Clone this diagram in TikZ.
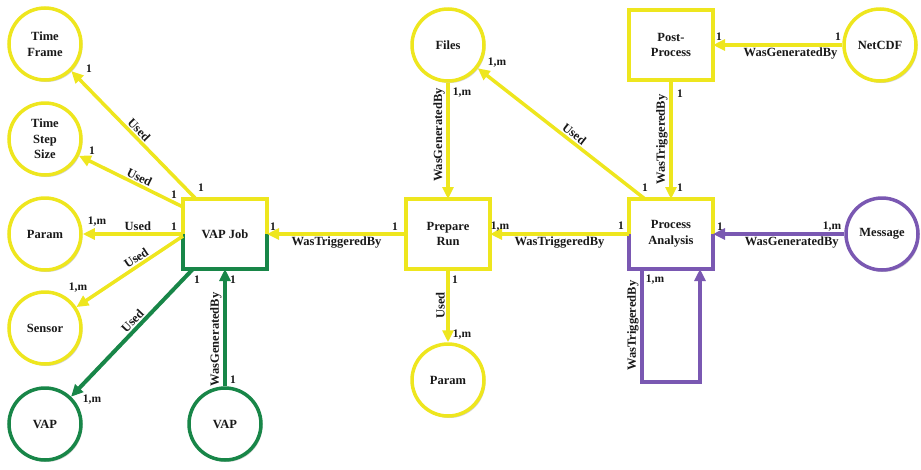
\documentclass[tikz,border=0pt]{standalone}
\usepackage{fontspec}
\setmainfont{Liberation Serif}
\usetikzlibrary{arrows.meta,shadows}
\definecolor{yel}{RGB}{238,230,30}
\definecolor{grn}{RGB}{24,134,72}
\definecolor{pur}{RGB}{122,88,178}
\begin{document}
\begin{tikzpicture}[x=1pt,y=-1pt,
  every node/.style={font=\bfseries\fontsize{12.5}{15.5}\selectfont, text=black!90},
  shd/.style={drop shadow={shadow xshift=1.5pt, shadow yshift=-2pt, opacity=0.35}},
  ent/.style={circle, draw=#1, line width=3.5pt, fill=white, minimum size=72pt, inner sep=0pt, align=center, shd},
  ent/.default=yel,
  act/.style={rectangle, draw=yel, line width=4pt, fill=white, minimum width=84pt, minimum height=70pt, outer sep=0pt, align=center, line join=miter, shd},
  rel/.style={line width=3.5pt, draw=#1, -{Triangle[length=12pt,width=11pt]}},
  rel/.default=yel,
  lab/.style={inner sep=1.5pt},
  card/.style={inner sep=0pt, font=\bfseries\fontsize{11.5}{14}\selectfont},
]
\useasboundingbox (0,0) rectangle (921,469);

% entities
\node[ent] (tf) at (45,44) {Time\\Frame};
\node[ent] (tss) at (45,139) {Time\\Step\\Size};
\node[ent] (param1) at (45,234) {Param};
\node[ent] (sensor) at (45,328) {Sensor};
\node[ent=grn] (vap1) at (45,424) {VAP};
\node[ent=grn] (vap2) at (225,424) {VAP};
\node[ent] (files) at (448,45) {Files};
\node[ent] (param2) at (448,380) {Param};
\node[ent] (netcdf) at (880,45) {NetCDF};
\node[ent=pur] (message) at (882,234) {Message};

% activities
\node[act] (vapjob) at (225,234) {VAP Job};
\node[act] (prepare) at (448,234) {Prepare\\Run};
\node[act] (post) at (671,45) {Post-\\Process};
\node[act] (pa) at (671,234) {Process\\Analysis};
\draw[grn, line width=4pt, line join=miter] (vapjob.west) -- (vapjob.south west) -- (vapjob.south east) -- (vapjob.east);
\draw[pur, line width=4pt, line join=miter] (pa.west) -- (pa.south west) -- (pa.south east) -- (pa.east);

% relations
\draw[rel] ([xshift=13pt]vapjob.north west) -- (tf)
  node[midway, sloped, above, lab] {Used};
\draw[rel] ([yshift=-8pt]vapjob.north west) -- (tss)
  node[pos=0.45, sloped, above, lab] {Used};
\draw[rel] (vapjob.west) -- (param1)
  node[pos=0.45, above, lab] {Used};
\draw[rel] ([yshift=-2pt]vapjob.west) -- (sensor)
  node[pos=0.4, sloped, above, lab] {Used};
\draw[rel=grn, line width=4pt] ([xshift=10pt]vapjob.south west) -- (vap1)
  node[pos=0.45, sloped, above, lab] {Used};
\draw[rel=grn, line width=4pt] (vap2) -- (vapjob.south)
  node[pos=0.4, rotate=90, above, lab] {WasGeneratedBy};
\draw[rel] (prepare.west) -- (vapjob.east)
  node[midway, below, lab] {WasTriggeredBy};
\draw[rel] (files) -- (prepare.north)
  node[pos=0.45, rotate=90, above, lab] {WasGeneratedBy};
\draw[rel] ([xshift=-26pt]pa.north) -- (files)
  node[pos=0.45, sloped, above, lab] {Used};
\draw[rel] (pa.west) -- (prepare.east)
  node[midway, below, lab] {WasTriggeredBy};
\draw[rel] (post) -- (pa.north)
  node[midway, rotate=90, above, lab] {WasTriggeredBy};
\draw[rel] (netcdf) -- (post.east)
  node[pos=0.4, below, lab] {WasGeneratedBy};
\draw[rel=pur] (message) -- (pa.east)
  node[pos=0.4, below, lab] {WasGeneratedBy};
\draw[rel] (prepare) -- (param2)
  node[pos=0.5, rotate=90, above, lab] {Used};
\coordinate (loopL) at (642,382);
\coordinate (loopR) at (700,382);
\draw[rel=pur, line join=miter] ([xshift=-29pt]pa.south) -- (loopL)
  node[midway, rotate=90, above, lab] {WasTriggeredBy}
  -- (loopR) -- ([xshift=29pt]pa.south);

% cardinalities
\foreach \x/\y/\t [count=\i] in {
  89/69/1, 92/151/1, 174/195/1, 201/188/1, 97/222/{1,m}, 174/227/1,
  273/227/1, 78/288/{1,m}, 197/280/1, 233/280/1, 92/400/{1,m}, 233/380/1,
  497/63/{1,m}, 462/93/{1,m}, 395/227/1, 500/227/{1,m}, 455/280/1,
  462/335/{1,m}, 621/226/1, 655/280/{1,m}, 719/37/1, 838/37/1, 680/94/1,
  645/188/1, 680/188/1, 720/227/1, 832/227/{1,m}}
  \node[card] (c\i) at (\x,\y) {\t};
\end{tikzpicture}
\end{document}
